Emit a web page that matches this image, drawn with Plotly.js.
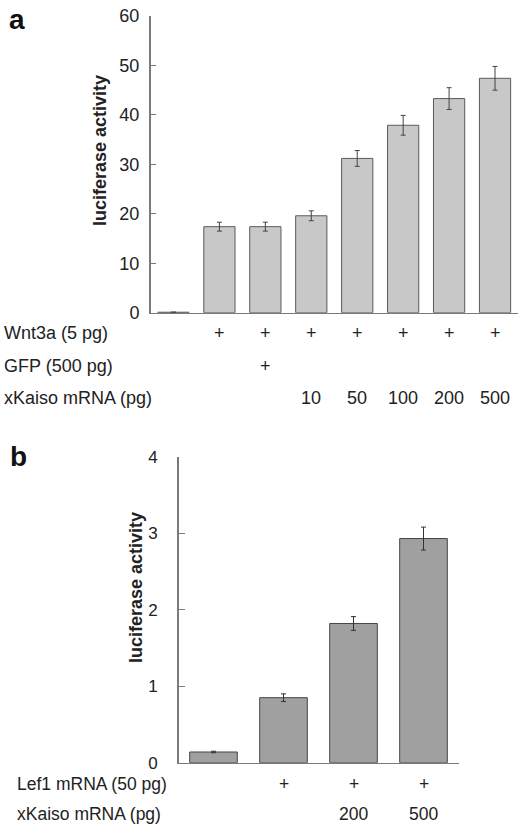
<!DOCTYPE html>
<html><head><meta charset="utf-8">
<script src="https://cdn.plot.ly/plotly-3.0.1.min.js"></script>
<style>html,body{margin:0;padding:0;background:#fff}#c{width:518px;height:828px}</style>
</head><body><div id="c"></div>
<script>
// Panel a
const catsA = ['c0','c1','c2','c3','c4','c5','c6','c7'];
const valsA = [0.1, 17.4, 17.4, 19.6, 31.2, 37.9, 43.3, 47.4];
const errA  = [0, 0.9, 0.9, 1.0, 1.6, 2.0, 2.2, 2.4];
const wnt3a = ['', '+', '+', '+', '+', '+', '+', '+'];
const gfp   = ['', '', '+', '', '', '', '', ''];
const kaisoA = ['', '', '', '10', '50', '100', '200', '500'];
const rowLabelsA = ['Wnt3a (5 pg)', 'GFP (500 pg)', 'xKaiso mRNA (pg)'];
const ticksA = [0, 10, 20, 30, 40, 50, 60];

// Panel b
const catsB = ['d0','d1','d2','d3'];
const valsB = [0.14, 0.85, 1.82, 2.93];
const errB  = [0.01, 0.05, 0.09, 0.15];
const lef1  = ['', '+', '+', '+'];
const kaisoB = ['', '', '200', '500'];
const rowLabelsB = ['Lef1 mRNA (50 pg)', 'xKaiso mRNA (pg)'];
const ticksB = [0, 1, 2, 3, 4];

const W = 518, H = 828;
const fx = px => px / W;
const fy = py => 1 - py / H;
const FONT = 'Liberation Sans, Arial, sans-serif';
const TXT = '#222';

const traces = [
  {type:'bar', x:catsA, y:valsA, xaxis:'x', yaxis:'y',
   marker:{color:'#c8c8c8', line:{color:'#5a5a5a', width:1}},
   error_y:{type:'data', array:errA, visible:true, color:'#444', thickness:1, width:2.5},
   hoverinfo:'none'},
  {type:'bar', x:catsB, y:valsB, xaxis:'x2', yaxis:'y2',
   marker:{color:'#a0a0a0', line:{color:'#444', width:1}},
   error_y:{type:'data', array:errB, visible:true, color:'#333', thickness:1, width:2.5},
   hoverinfo:'none'}
];

const ann = [];
const A = (o) => ann.push(Object.assign({showarrow:false, xanchor:'center', yanchor:'middle'}, o));
A({text:'<b>a</b>', xref:'paper', yref:'paper', x:fx(17), y:fy(20), font:{family:FONT, size:28, color:'#111'}});
A({text:'<b>b</b>', xref:'paper', yref:'paper', x:fx(18), y:fy(456), font:{family:FONT, size:28, color:'#111'}});
A({text:'<b>luciferase activity</b>', xref:'paper', yref:'paper', x:fx(100), y:fy(151), textangle:-90, font:{family:FONT, size:18, color:TXT}});
A({text:'<b>luciferase activity</b>', xref:'paper', yref:'paper', x:fx(136), y:fy(588), textangle:-90, font:{family:FONT, size:18, color:TXT}});

const rowYA = [333, 366, 398];
[wnt3a, gfp, kaisoA].forEach((row, r) => {
  A({text:rowLabelsA[r], xref:'paper', yref:'paper', x:fx(2), y:fy(rowYA[r]), xanchor:'left', font:{family:FONT, size:18, color:TXT}});
  row.forEach((t, i) => { if (t) A({text:t, xref:'x', yref:'paper', x:catsA[i], y:fy(rowYA[r]), font:{family:FONT, size:18, color:TXT}}); });
});
const rowYB = [784, 814];
[lef1, kaisoB].forEach((row, r) => {
  A({text:rowLabelsB[r], xref:'paper', yref:'paper', x:fx(15), y:fy(rowYB[r]), xanchor:'left', font:{family:FONT, size:17.5, color:TXT}});
  row.forEach((t, i) => { if (t) A({text:t, xref:'x2', yref:'paper', x:catsB[i], y:fy(rowYB[r]), font:{family:FONT, size:17.5, color:TXT}}); });
});

const axCommon = {showgrid:false, zeroline:false, showline:true, linecolor:'#7a7a7a', linewidth:1.5, fixedrange:true};
const layout = {
  width:W, height:H, margin:{l:0, r:0, t:0, b:0},
  paper_bgcolor:'#fff', plot_bgcolor:'rgba(0,0,0,0)',
  showlegend:false, bargap:0.32,
  font:{family:FONT, color:TXT},
  xaxis:Object.assign({}, axCommon, {domain:[fx(150.5), 1], range:[-0.5, 7.5], showticklabels:false, ticks:'', anchor:'y'}),
  yaxis:Object.assign({}, axCommon, {domain:[fy(312.7), fy(16)], range:[0, 60], tickvals:ticksA, ticks:'inside', ticklen:5, tickcolor:'#7a7a7a', tickfont:{size:18, color:TXT}, ticklabelstandoff:6, anchor:'x'}),
  xaxis2:Object.assign({}, axCommon, {domain:[fx(178.5), fx(458.5)], range:[-0.5, 3.5], showticklabels:false, ticks:'', anchor:'y2'}),
  yaxis2:Object.assign({}, axCommon, {domain:[fy(762.7), fy(456.7)], range:[0, 4], tickvals:ticksB, ticks:'inside', ticklen:6, tickcolor:'#7a7a7a', tickfont:{size:17, color:TXT}, ticklabelstandoff:16, anchor:'x2'}),
  annotations:ann
};
Plotly.newPlot('c', traces, layout, {staticPlot:true, displayModeBar:false});
</script></body></html>
